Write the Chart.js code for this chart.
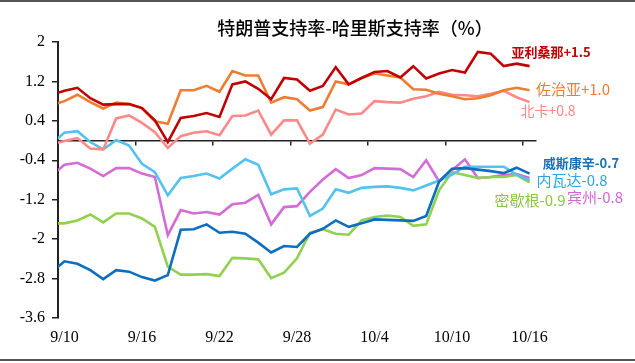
<!DOCTYPE html>
<html>
<head>
<meta charset="utf-8">
<script src="https://cdn.jsdelivr.net/npm/chart.js@4.4.1/dist/chart.umd.min.js"></script>
<style>
  html, body { margin: 0; padding: 0; background: #fff; }
  #wrap { position: relative; width: 635px; height: 363px; overflow: hidden; }
  #wrap canvas { position: absolute; left: 0; top: 0; }
  .rule { position: absolute; left: 0; width: 635px; height: 2px; background: #555; }
</style>
</head>
<body>
<div id="wrap">
  <canvas id="gapChart" width="635" height="363"></canvas>
  <div class="rule" style="top:0"></div>
  <div class="rule" style="top:359px"></div>
</div>
<script>
// Trump minus Harris, swing states, 9/9 - 10/16
const dates = ['9/9', '9/10', '9/11', '9/12', '9/13', '9/14', '9/15', '9/16', '9/17', '9/18',
  '9/19', '9/20', '9/21', '9/22', '9/23', '9/24', '9/25', '9/26', '9/27', '9/28',
  '9/29', '9/30', '10/1', '10/2', '10/3', '10/4', '10/5', '10/6', '10/7', '10/8',
  '10/9', '10/10', '10/11', '10/12', '10/13', '10/14', '10/15', '10/16'];

const arizona = [0.93, 1.01, 1.07, 0.86, 0.73, 0.74, 0.74, 0.66, 0.41, -0.03, 0.46, 0.50, 0.56, 0.48,
  1.14, 1.20, 1.05, 0.84, 1.27, 1.24, 1.01, 1.11, 1.49, 1.14, 1.27, 1.39,
  1.41, 1.28, 1.51, 1.26, 1.36, 1.43, 1.38, 1.80, 1.76, 1.51, 1.56, 1.51];
const georgia = [0.72, 0.80, 0.93, 0.78, 0.65, 0.77, 0.74, 0.66, 0.39, 0.34, 1.02, 1.02, 1.11, 0.99,
  1.41, 1.32, 1.32, 0.77, 0.88, 0.84, 0.61, 0.68, 1.20, 1.14, 1.27, 1.36,
  1.32, 1.28, 1.04, 1.03, 0.95, 0.90, 0.84, 0.86, 0.92, 1.02, 1.07, 1.02];
const northCarolina = [-0.07, -0.01, 0.05, -0.16, -0.18, 0.45, 0.51, 0.36, 0.17, -0.15, 0.09, 0.16, 0.19, 0.11,
  0.50, 0.51, 0.61, 0.12, 0.41, 0.41, -0.06, 0.12, 0.63, 0.53, 0.55, 0.80,
  0.78, 0.77, 0.85, 0.90, 0.99, 0.93, 0.92, 0.90, 0.95, 1.01, 0.88, 0.78];
const wisconsin = [-2.67, -2.45, -2.50, -2.63, -2.81, -2.63, -2.66, -2.77, -2.84, -2.73, -1.81, -1.80, -1.70, -1.87,
  -1.85, -1.89, -2.07, -2.27, -2.14, -2.16, -1.89, -1.79, -1.62, -1.75, -1.68, -1.60,
  -1.61, -1.62, -1.63, -1.53, -0.83, -0.57, -0.56, -0.59, -0.62, -0.66, -0.55, -0.67];
const nevada = [-0.06, 0.16, 0.19, -0.03, -0.18, 0.01, -0.10, -0.47, -0.64, -1.11, -0.76, -0.72, -0.67, -0.77,
  -0.57, -0.38, -0.49, -1.09, -0.99, -0.97, -1.53, -1.38, -0.99, -1.06, -0.96, -0.94,
  -0.93, -0.96, -1.01, -0.91, -0.81, -0.69, -0.53, -0.53, -0.53, -0.53, -0.69, -0.81];
const michigan = [-1.68, -1.68, -1.62, -1.50, -1.66, -1.48, -1.48, -1.58, -1.75, -2.56, -2.72, -2.72, -2.71, -2.75,
  -2.38, -2.39, -2.41, -2.79, -2.68, -2.39, -1.87, -1.80, -1.89, -1.91, -1.62, -1.55,
  -1.52, -1.55, -1.73, -1.70, -1.01, -0.64, -0.70, -0.76, -0.74, -0.74, -0.70, -0.85];
const pennsylvania = [-0.71, -0.49, -0.45, -0.57, -0.72, -0.56, -0.56, -0.67, -0.74, -1.92, -1.41, -1.48, -1.45, -1.50,
  -1.29, -1.26, -1.10, -1.70, -1.35, -1.33, -1.04, -0.79, -0.58, -0.76, -0.70, -0.56,
  -0.57, -0.58, -0.74, -0.40, -0.83, -0.60, -0.38, -0.76, -0.74, -0.70, -0.68, -0.76];

const titleText = '特朗普支持率-哈里斯支持率（%）';
const stateLabels = ['亚利桑那+1.5', '佐治亚+1.0', '北卡+0.8', '威斯康辛-0.7', '内瓦达-0.8', '密歇根-0.9', '宾州-0.8'];
const series = [arizona, georgia, northCarolina, wisconsin, nevada, michigan, pennsylvania];
const lineColors = ['#C00000', '#ED7D31', '#FF8888', '#0B6FBE', '#55C2EE', '#92D050', '#D56BD5'];
const textColors = ['#C00000', '#ED7D31', '#FF8888', '#1A70B8', '#2FA5DC', '#8CC63F', '#D366D3'];

// where the state labels sit, and the minor tick marks on the zero line
const labelSpots = [
  { x: 551, y: 52, font: 'bold 13px "Noto Sans CJK SC"' },
  { x: 573, y: 89, font: '15px "Noto Sans CJK SC"' },
  { x: 548, y: 111, font: '14px "Noto Sans CJK SC"' },
  { x: 581, y: 163, font: 'bold 13px "Noto Sans CJK SC"' },
  { x: 572, y: 180, font: '15px "Noto Sans CJK SC"' },
  { x: 530, y: 200, font: '15px "Noto Sans CJK SC"' },
  { x: 595, y: 197, font: '15px "Noto Sans CJK SC"' }
];
const zeroTicks = [6.5, 12.5, 18.5, 24.5, 30.5, 36.5];

const annotate = {
  id: 'annotate',
  afterDraw(chart) {
    const ctx = chart.ctx;
    ctx.save();
    ctx.textAlign = 'center';
    ctx.textBaseline = 'middle';
    ctx.fillStyle = '#000';
    ctx.font = '500 18px "Noto Sans CJK SC"';
    ctx.fillText(titleText, 355, 28);
    labelSpots.forEach((spot, i) => {
      ctx.font = spot.font;
      ctx.fillStyle = textColors[i];
      ctx.fillText(stateLabels[i], spot.x, spot.y);
    });
    ctx.restore();
  }
};

const serif = { family: '"Liberation Serif", "Times New Roman", serif', size: 16 };

const ctx = document.getElementById('gapChart').getContext('2d');
const gapChart = new Chart(ctx, {
  type: 'line',
  data: {
    labels: dates,
    datasets: series.map((vals, i) => ({
      label: stateLabels[i],
      data: vals,
      borderColor: lineColors[i],
      borderWidth: 2.6,
      pointRadius: 0,
      tension: 0,
      fill: false
    }))
  },
  options: {
    responsive: false,
    animation: false,
    devicePixelRatio: 1,
    layout: { padding: { top: 42, right: 99, left: 0, bottom: 0 } },
    plugins: {
      legend: { display: false },
      title: { display: false },
      tooltip: { enabled: false }
    },
    scales: {
      x: {
        type: 'category',
        min: '9/10',
        max: '10/16',
        offset: true,
        grid: { display: false, drawTicks: false },
        border: { display: false },
        ticks: {
          autoSkip: false,
          maxRotation: 0,
          color: '#000',
          font: serif,
          padding: 10,
          callback: function (v) {
            return (v - 1) % 6 === 0 ? this.getLabelForValue(v) : '';
          }
        },
        afterFit: s => { s.height = 45; }
      },
      x2: {
        type: 'linear',
        position: { y: 0 },
        min: 0.5,
        max: 37.5,
        afterBuildTicks: s => { s.ticks = zeroTicks.map(v => ({ value: v })); },
        ticks: { display: false },
        grid: { drawOnChartArea: false, drawTicks: true, tickLength: 4, color: '#222', lineWidth: 1.5 },
        border: { display: true, color: '#222', width: 1.5 }
      },
      y: {
        min: -3.6,
        max: 2,
        ticks: {
          stepSize: 0.8,
          color: '#000',
          font: serif,
          padding: 7,
          callback: v => String(Number(v.toFixed(1)))
        },
        grid: { drawOnChartArea: false, drawTicks: true, tickLength: 6, color: '#222', lineWidth: 1.5 },
        border: { display: true, color: '#222', width: 2 },
        afterFit: s => { s.width = 58; }
      }
    }
  },
  plugins: [annotate]
});
</script>
</body>
</html>
